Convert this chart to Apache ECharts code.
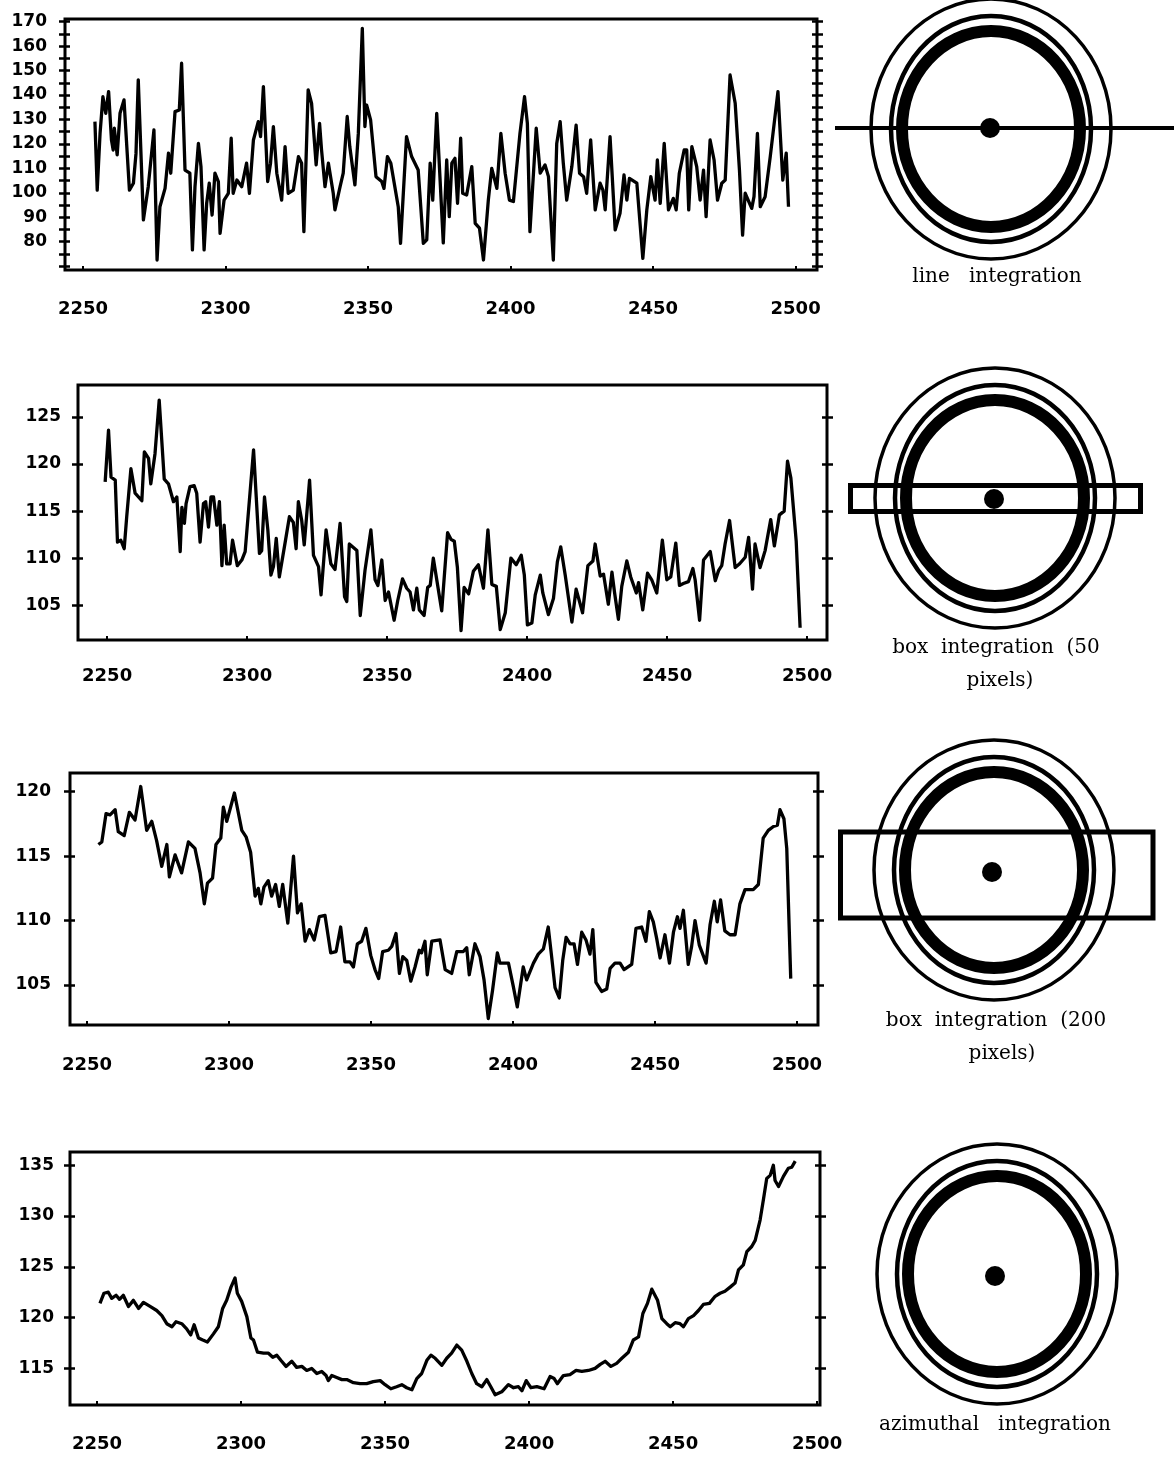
<!DOCTYPE html>
<html>
<head>
<meta charset="utf-8">
<script src="https://cdn.jsdelivr.net/npm/echarts@6/dist/echarts.min.js"></script>
<style>
html,body{margin:0;padding:0;background:#fff;}
#chart{width:1174px;height:1457px;}
</style>
</head>
<body>
<div id="chart"></div>
<script>
// ---------- DATA ----------
const xTickLabels = [2250, 2300, 2350, 2400, 2450, 2500];

// Panel 1: line integration
const lineYTicks = [70,75,80,85,90,95,100,105,110,115,120,125,130,135,140,145,150,155,160,165,170];
const lineYLabels = [80,90,100,110,120,130,140,150,160,170];
const lineX = [2254.2,2255,2256,2257,2258,2259,2260,2260.6,2261,2262,
2263,2264.4,2266.3,2267.7,2268.6,2269.4,2271.2,2272.9,2274.9,2276,
2277,2278.8,2280,2280.8,2282.3,2283.8,2284.6,2285.8,2287.5,2288.4,
2289.3,2290.5,2291.4,2292.5,2293.4,2294.3,2295.3,2296.3,2297.5,2298.1,
2299.5,2301,2302,2302.7,2304,2305.7,2307.4,2308.4,2309.8,2311.5,
2312.3,2313.3,2314.8,2315.8,2316.8,2318,2319.7,2320.9,2322,2323.8,
2325.6,2326.7,2327.5,2329,2330.2,2331.8,2333,2333.7,2334.9,2336.1,
2337.8,2338.4,2340.2,2341.3,2342.7,2343.6,2345.4,2346.6,2348,2348.9,
2349.5,2350.9,2352.8,2354.8,2355.6,2356.8,2358,2360.6,2361.4,2363.5,
2365.3,2367.6,2369.4,2370.6,2371.8,2372.7,2374.1,2376.4,2377.6,2378.5,
2379.4,2380.5,2381.4,2382.5,2383.2,2384.6,2386.4,2387.6,2389.1,2390.5,
2392.2,2393.4,2395.2,2396.6,2398.1,2399.6,2401,2403.3,2404.9,2405.9,
2406.8,2409,2410.4,2412.1,2413.3,2415,2416.2,2417.4,2418.5,2419.7,
2421.5,2423,2424.2,2425.6,2426.7,2428.1,2429.7,2431.4,2432.4,2433.2,
2434.9,2436.7,2438.4,2439.8,2440.8,2441.7,2444.3,2446.4,2447.8,2449.2,
2450.7,2451.5,2452.5,2453.9,2455.4,2457.1,2458.1,2459.2,2460.9,2461.8,
2462.5,2463.6,2465.3,2466.5,2467.7,2468.6,2470,2471.4,2472.6,2474.1,
2475.3,2477,2478.8,2480.3,2481.4,2482.3,2484.6,2485.4,2486.6,2487.6,
2489.3,2491.1,2493.8,2495.5,2496.7,2497.5];
const lineY = [129.1,101.1,124.3,139.3,132.5,141.4,121.6,117.5,126.4,115.5,
132.5,138,101.1,103.9,116,146.2,88.9,102.5,125.7,72.5,
94.3,101.8,116.2,108,133.2,133.9,153,109.3,108,76.6,
102.5,120.2,110.7,76.6,95.7,103.9,90.9,108,104.6,83.4,
97,99.8,122.3,99.8,105.2,102.5,112.1,99.8,121.6,129.1,
123,143.4,104.6,112.1,127.1,108,97,118.9,99.8,101.1,
114.8,112.1,84.1,142.1,136.6,111.4,128.4,117.5,102.5,112.1,
99.8,93,102.5,108,131.2,118.9,103.2,124.3,167.3,127.1,
135.9,129.8,106.6,104.6,101.8,114.8,112.1,94.3,79.3,123,
114.8,109.3,79.3,80.7,112.1,97,132.5,79.5,113.4,90.2,
112.1,114.1,95.7,122.3,99.8,99.1,110.7,87.5,85.5,72.5,
97,110,101.8,124.3,108,97,96.4,124.3,139.3,128.4,
84.1,126.4,108,111.4,106.6,72.5,120.2,129.1,112.1,97,
110.7,127.7,108,106.6,99.8,121.6,93,103.9,101.1,93,
123,84.8,91.6,107.3,97,105.9,103.9,73.2,93,106.6,
97,113.4,95.7,120.2,93,97.7,93,108,117.5,117.5,
93,118.9,110.7,97,109.3,90.2,121.6,113.4,97,103.9,
105.2,148.2,136.6,109.3,82.7,99.8,93.6,98.4,124.3,94.3,
98.4,114.8,141.4,105.2,116.2,94.3];

// Panel 2: box integration (50 pixels)
const box50YTicks = [105,110,115,120,125];
const box50X = [2249.3,2250.5,2251.4,2252.9,2253.7,2254.9,2256.1,2257,2258.5,2260,
2262.4,2263.3,2264.8,2265.6,2267.1,2268.6,2270.4,2271.9,2273.7,2274.9,
2276.1,2276.7,2277.6,2278.2,2279.6,2281.1,2282,2283.2,2284.4,2285.2,
2286.2,2287.1,2288,2289.2,2290.1,2291,2291.8,2292.7,2293.9,2294.8,
2296.5,2298.1,2299.3,2302.3,2304.4,2305.2,2306.2,2307.4,2308.5,2309.4,
2310.4,2311.5,2313.6,2315.1,2316.5,2317.5,2318.3,2319.5,2320.4,2322.3,
2323.1,2323.7,2325.5,2326.4,2328.2,2329.9,2331.4,2333.2,2334.8,2335.6,
2336.5,2339.2,2340.4,2342.1,2344.2,2345.7,2346.7,2348.1,2349.3,2350.5,
2352.5,2353.8,2355.5,2357,2358.2,2359.4,2360.6,2361.5,2363.2,2364.5,
2365.4,2366.5,2369.5,2371.6,2372.8,2374,2375.1,2376.4,2377.5,2379.1,
2380.8,2382.6,2384.4,2386,2387.4,2389,2390.4,2392.2,2394.2,2396.1,
2397.9,2399,2400.1,2401.7,2402.9,2404.7,2405.6,2407.6,2409.4,2410.8,
2412,2413.6,2416,2417.5,2419.8,2421.7,2423.5,2424.3,2426.1,2427.3,
2429,2430.3,2431.2,2432.6,2433.8,2435.6,2437,2439,2439.8,2441.3,
2443,2444.5,2446.3,2448.3,2449.9,2451.3,2453.1,2454.4,2455.8,2457.6,
2459.2,2460,2461.6,2463,2465.4,2467.2,2468.4,2469.5,2470.7,2472.3,
2474.3,2475.9,2477.9,2479.1,2480.5,2481.4,2483.2,2485,2487,2488.3,
2490.1,2491.8,2493,2494.2,2496.1,2497.5];
const box50Y = [118.1,123.6,118.6,118.3,111.7,111.9,111,114.4,119.5,116.9,
116.1,121.3,120.6,117.9,121.1,126.8,118.4,117.9,116,116.5,
110.7,115.4,113.7,115.8,117.6,117.7,116.9,111.7,115.8,116,
113.3,116.5,116.5,113.5,116,109.2,113.5,109.4,109.4,111.9,
109.2,109.8,110.7,121.5,110.5,110.8,116.5,113,108.2,109.1,
112.1,108,111.7,114.4,113.8,111,116,114,111.4,118.3,
113.7,110.3,109.1,106.1,113,109.4,108.8,113.7,105.9,105.4,
111.5,110.8,103.9,108.7,113,107.7,107.1,109.8,105.5,106.4,
103.4,105.5,107.8,106.8,106.4,104.5,106.8,104.5,103.9,106.9,
107.1,110,104.4,112.7,112,111.8,109,102.3,106.9,106.2,
108.6,109.3,106.8,113,107.2,107,102.4,104.2,110,109.3,
110.3,108.2,102.9,103.1,106.1,108.2,106.3,104,105.7,109.6,
111.2,108.2,103.2,106.7,104.2,109.2,109.7,111.5,108.1,108.3,
105.1,108.5,106.4,103.5,107,109.7,108,106.3,107.4,104.5,
108.4,107.7,106.3,111.9,107.7,108,111.6,107.1,107.3,107.5,
108.9,107.7,103.4,109.8,110.7,107.6,108.7,109.2,111.5,114,
109,109.4,110.1,112.2,106.7,111.5,109,110.8,114.1,111.3,
114.6,115,120.3,118.5,111.8,102.6];

// Panel 3: box integration (200 pixels)
const box200YTicks = [105,110,115,120];
const box200X = [2254,2255.2,2256.7,2258.1,2259.9,2261,2263.1,2264.9,2266.9,2268.9,
2271,2272.8,2274.5,2276.3,2278.1,2279,2281,2283.3,2285.7,2288,
2289.8,2291.3,2292.4,2294.2,2295.4,2297.1,2298,2299.2,2301.9,2304.5,
2306,2307.6,2309.2,2310.3,2311.2,2312.3,2313.8,2315,2316.4,2317.7,
2318.9,2320.7,2322.7,2324.1,2325.4,2326.8,2328.3,2330,2331.8,2333.8,
2335.8,2337.7,2339.3,2340.8,2342.6,2343.8,2345.2,2346.7,2348.2,2349.9,
2351.4,2352.7,2354.1,2356.1,2357.3,2358.8,2360,2361.2,2362.6,2364,
2365.5,2367,2367.8,2369,2369.8,2371.4,2374.3,2376.1,2378.4,2380.2,
2382.5,2383.7,2384.6,2386.6,2388.4,2389.8,2391.3,2392.8,2394.5,2395.4,
2398.4,2400.1,2401.5,2403.6,2404.8,2407.2,2408.9,2410.7,2412.4,2413.6,
2414.8,2416.3,2417.5,2418.7,2420.1,2421.5,2422.7,2424.2,2425.7,2427.1,
2428.1,2429.2,2431.2,2433,2434.2,2435.9,2437.7,2439.1,2441.8,2443.3,
2445.3,2446.8,2448,2449.4,2450.6,2451.8,2453.5,2455.1,2456.5,2457.9,
2458.8,2460,2461.7,2462.9,2464.1,2465.6,2468,2469.4,2470.9,2471.9,
2473.1,2474.6,2476.4,2478.2,2479.9,2481.7,2484.6,2486.4,2488.1,2489.9,
2491.7,2493.1,2494,2495.4,2496.4,2497.8];
const box200Y = [115.9,116.1,118.3,118.2,118.6,116.9,116.6,118.4,117.8,120.4,
117,117.7,116.2,114.2,115.9,113.4,115.1,113.7,116.1,115.6,
113.7,111.3,112.9,113.3,115.9,116.4,118.8,117.7,119.9,117,
116.5,115.3,111.9,112.5,111.3,112.6,113.1,111.9,112.8,111.1,
112.8,109.8,115,110.6,111.3,108.4,109.3,108.5,110.3,110.4,
107.5,107.6,109.5,106.8,106.8,106.4,108.2,108.4,109.4,107.3,
106.2,105.5,107.6,107.7,108,109,105.9,107.2,106.9,105.3,
106.4,107.7,107.5,108.4,105.8,108.4,108.5,106.2,105.9,107.6,
107.6,107.9,105.8,108.2,107.2,105.4,102.4,104.6,107.5,106.7,
106.7,104.9,103.3,106.4,105.4,106.7,107.4,107.8,109.5,107.2,
104.8,104,106.9,108.7,108.2,108.2,106.6,109.1,108.5,107.4,
109.3,105.2,104.5,104.7,106.3,106.7,106.7,106.2,106.6,109.4,
109.5,108.4,110.7,109.9,108.6,107.1,108.9,106.7,109.1,110.3,
109.4,110.8,106.6,108,110,108.1,106.7,109.7,111.5,109.9,
111.6,109.2,108.9,108.9,111.3,112.4,112.4,112.8,116.4,117,
117.3,117.4,118.6,117.9,115.6,105.5];

// Panel 4: azimuthal integration
const azimYTicks = [115,120,125,130,135];
const azimX = [2251,2252.4,2253.9,2255.1,2256.6,2257.8,2259.1,2260.9,2262.6,2264.4,
2266.1,2268.4,2270.7,2272.5,2274.2,2276,2277.4,2279.4,2281.1,2282.5,
2283.7,2285.2,2286.7,2288.3,2290.4,2292.1,2293.6,2295,2296.5,2297.9,
2298.7,2300.2,2302,2303.4,2304.3,2305.7,2307.8,2309.5,2311,2312.4,
2313.8,2315.6,2317.6,2319.3,2321.1,2322.8,2324.5,2326.3,2328,2329.5,
2330.3,2331.5,2333.2,2335,2336.7,2339,2341.3,2343.6,2345.9,2348.3,
2350,2352,2354,2355.8,2357.5,2359.3,2361,2362.7,2364.5,2365.9,
2367.4,2369.7,2371.4,2373.1,2374.9,2376.6,2378.4,2380.1,2381.8,2383.6,
2385.3,2386.7,2388.2,2390.5,2392.8,2394.6,2396.3,2397.5,2399,2400.6,
2402.7,2405.2,2407.3,2408.7,2409.8,2411.9,2414.2,2416.3,2418.3,2420.6,
2422.9,2424.7,2426.4,2428.4,2430.4,2432.2,2434.5,2436.2,2438,2439.5,
2441.1,2442.6,2444.6,2446.1,2447.8,2449,2450.7,2452.4,2453.6,2455.3,
2457.1,2458.8,2460.5,2462.6,2464.6,2466.3,2468,2469.8,2471.5,2472.7,
2474.4,2475.6,2477.3,2478.5,2480.2,2481.4,2482.5,2483.7,2484.8,2485.4,
2486.6,2488.3,2490,2491.2,2492.4];
const azimY = [121.4,122.4,122.5,121.9,122.2,121.8,122.2,121.1,121.7,120.9,
121.5,121.1,120.7,120.2,119.4,119.1,119.6,119.4,118.9,118.3,
119.3,118,117.8,117.6,118.4,119.1,120.9,121.7,123,123.9,
122.4,121.6,120.1,118,117.8,116.6,116.5,116.5,116.1,116.3,
115.8,115.2,115.7,115.1,115.2,114.8,115,114.5,114.7,114.3,
113.8,114.3,114.1,113.9,113.9,113.6,113.5,113.5,113.7,113.8,
113.4,113,113.2,113.4,113.1,112.9,114,114.5,115.8,116.3,
116,115.3,116,116.5,117.3,116.8,115.7,114.5,113.5,113.2,
113.9,113.2,112.4,112.7,113.4,113.1,113.2,112.8,113.8,113.1,
113.2,113,114.2,114,113.5,114.3,114.4,114.8,114.7,114.8,
115,115.4,115.7,115.2,115.5,116,116.6,117.8,118.1,120.4,
121.4,122.8,121.7,119.9,119.4,119.1,119.5,119.4,119.1,119.9,
120.2,120.7,121.3,121.4,122.1,122.4,122.6,123,123.4,124.7,
125.2,126.5,127,127.6,129.6,131.7,133.7,134,135,133.5,
132.9,133.9,134.7,134.8,135.4];

const diagramLabels = [
  ['line   integration'],
  ['box  integration  (50', 'pixels)'],
  ['box  integration  (200', 'pixels)'],
  ['azimuthal   integration']
];

// ---------- LAYOUT ----------
const panels = [
  {x: lineX, y: lineY, grid: {left: 65, top: 19, width: 752, height: 251},
   xMin: 2243.7, xMax: 2507.5, yMin: 68.4, yMax: 171.1,
   yTicks: lineYTicks, yLabels: lineYLabels, xMargin: 30, yMargin: 18},
  {x: box50X, y: box50Y, grid: {left: 78, top: 385, width: 749, height: 255},
   xMin: 2239.6, xMax: 2507.1, yMin: 101.3, yMax: 128.4,
   yTicks: box50YTicks, yLabels: box50YTicks, xMargin: 27, yMargin: 17},
  {x: box200X, y: box200Y, grid: {left: 70, top: 773, width: 748, height: 252},
   xMin: 2244, xMax: 2507.4, yMin: 101.9, yMax: 121.45,
   yTicks: box200YTicks, yLabels: box200YTicks, xMargin: 31, yMargin: 19},
  {x: azimX, y: azimY, grid: {left: 70, top: 1152, width: 750, height: 253},
   xMin: 2240.6, xMax: 2501, yMin: 111.4, yMax: 136.3,
   yTicks: azimYTicks, yLabels: azimYTicks, xMargin: 30, yMargin: 16}
];

const LABEL_FONT = {fontFamily: 'DejaVu Sans', fontWeight: 'bold', color: '#000', formatter: v => String(v)};

const grids = [], xAxes = [], yAxes = [], series = [];
panels.forEach((p, i) => {
  grids.push(Object.assign({show: true, borderColor: '#000', borderWidth: 3, containLabel: false}, p.grid));
  xAxes.push({
    gridIndex: i, type: 'value', min: p.xMin, max: p.xMax,
    axisLine: {show: false}, splitLine: {show: false},
    axisTick: {show: true, inside: true, length: 4, customValues: xTickLabels, lineStyle: {color: '#000', width: 2}},
    axisLabel: Object.assign({customValues: xTickLabels, margin: p.xMargin, fontSize: 18}, LABEL_FONT)
  });
  ['left', 'right'].forEach(pos => {
    [false, true].forEach(inside => {
      yAxes.push({
        gridIndex: i, type: 'value', position: pos, min: p.yMin, max: p.yMax,
        axisLine: {show: false}, splitLine: {show: false},
        axisTick: {show: true, inside: inside, length: inside ? 5 : 6, customValues: p.yTicks,
                   lineStyle: {color: '#000', width: 2.5}},
        axisLabel: (pos === 'left' && !inside)
          ? Object.assign({show: true, customValues: p.yLabels, margin: p.yMargin, fontSize: 17}, LABEL_FONT)
          : {show: false}
      });
    });
  });
  series.push({
    type: 'line', xAxisIndex: i, yAxisIndex: i * 4,
    data: p.x.map((v, k) => [v, p.y[k]]),
    symbol: 'none', showSymbol: false,
    lineStyle: {color: '#000', width: 3.3, join: 'round'},
    silent: true
  });
});

// ---------- DIAGRAMS (illustrations) ----------
function rings(cx, cy, dotX, dotY) {
  return [
    {type: 'ellipse', shape: {cx: cx, cy: cy, rx: 120, ry: 130}, style: {fill: 'none', stroke: '#000', lineWidth: 3.5}},
    {type: 'ellipse', shape: {cx: cx, cy: cy, rx: 100, ry: 113}, style: {fill: 'none', stroke: '#000', lineWidth: 4.5}},
    {type: 'ellipse', shape: {cx: cx, cy: cy, rx: 89, ry: 98}, style: {fill: 'none', stroke: '#000', lineWidth: 12}},
    {type: 'circle', shape: {cx: dotX, cy: dotY, r: 10}, style: {fill: '#000'}, z: 10}
  ];
}
function label(text, x, y) {
  return {type: 'text', x: x, y: y, style: {text: text, fill: '#000', font: '20px "DejaVu Serif"', align: 'center', verticalAlign: 'middle'}};
}
const graphics = [].concat(
  rings(991, 129, 990, 128),
  [{type: 'line', shape: {x1: 835, y1: 128, x2: 1174, y2: 128}, style: {stroke: '#000', lineWidth: 4}, z: 5}],
  [label(diagramLabels[0][0], 997, 277)],
  rings(995, 498, 994, 499),
  [{type: 'rect', shape: {x: 850.5, y: 485.5, width: 290, height: 26}, style: {fill: 'none', stroke: '#000', lineWidth: 5}, z: 5}],
  [label(diagramLabels[1][0], 996, 648), label(diagramLabels[1][1], 1000, 681)],
  rings(994, 870, 992, 872),
  [{type: 'rect', shape: {x: 840.5, y: 832, width: 312.5, height: 86}, style: {fill: 'none', stroke: '#000', lineWidth: 5}, z: 5}],
  [label(diagramLabels[2][0], 996, 1021), label(diagramLabels[2][1], 1002, 1054)],
  rings(997, 1274, 995, 1276),
  [label(diagramLabels[3][0], 995, 1425)]
);

const chart = echarts.init(document.getElementById('chart'), null, {renderer: 'canvas'});
chart.setOption({
  backgroundColor: '#fff',
  animation: false,
  grid: grids,
  xAxis: xAxes,
  yAxis: yAxes,
  series: series,
  graphic: {elements: graphics}
});
</script>
</body>
</html>
